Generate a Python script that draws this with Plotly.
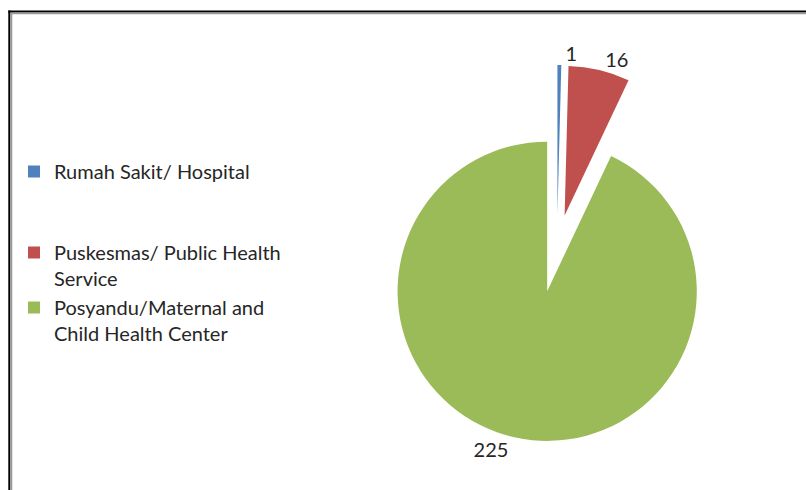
import plotly.graph_objects as go

labels = ["Rumah Sakit/ Hospital<br> <br> ",
          "Puskesmas/ Public Health<br>Service",
          "Posyandu/Maternal and<br>Child Health Center"]
values = [1, 16, 225]
colors = ["#4F81BD", "#C0504D", "#9BBB59"]
pulls = [0.22, 0.22, 0.30]

W, H = 806, 490
cx, cy, half = 557.0, 247.5, 194.5
dom = dict(x=[(cx - half) / W, (cx + half) / W],
           y=[1 - (cy + half) / H, 1 - (cy - half) / H])
lbl_font = dict(family="Lato", size=20, color="#262626")

# main pie: slices + labels of the two larger slices
fig = go.Figure(go.Pie(
    labels=labels,
    values=values,
    sort=False,
    direction="clockwise",
    rotation=0,
    pull=pulls,
    marker=dict(colors=colors, line=dict(width=0)),
    texttemplate="%{value}",
    textposition=["none", "outside", "outside"],
    outsidetextfont=lbl_font,
    domain=dom,
    hoverinfo="label+value",
))
# same pie, transparent, carrying the label of the smallest slice
fig.add_trace(go.Pie(
    labels=labels,
    values=values,
    sort=False,
    direction="clockwise",
    rotation=0,
    pull=pulls,
    marker=dict(colors=["rgba(0,0,0,0)"] * 3, line=dict(width=0)),
    texttemplate="%{value}",
    textposition=["outside", "none", "none"],
    outsidetextfont=lbl_font,
    domain=dom,
    hoverinfo="skip",
    showlegend=False,
))

fig.update_layout(
    width=W, height=H,
    margin=dict(l=0, r=0, t=0, b=0, autoexpand=False),
    paper_bgcolor="white",
    plot_bgcolor="white",
    font=dict(family="Lato", size=20, color="#262626"),
    showlegend=True,
    legend=dict(x=14 / W, xanchor="left", y=1 - 152 / H, yanchor="top",
                valign="top", font=dict(family="Lato", size=20, color="#262626"),
                bgcolor="rgba(0,0,0,0)", traceorder="normal"),
    shapes=[
        dict(type="line", xref="paper", yref="paper", x0=9.3 / W, x1=9.3 / W,
             y0=0, y1=1 - 10.5 / H, line=dict(color="#000000", width=2)),
        dict(type="line", xref="paper", yref="paper", x0=11.3 / W, x1=11.3 / W,
             y0=0, y1=1 - 12.5 / H, line=dict(color="#9a9a9a", width=2)),
        dict(type="line", xref="paper", yref="paper", x0=8.3 / W, x1=1,
             y0=1 - 11.5 / H, y1=1 - 11.5 / H, line=dict(color="#000000", width=2)),
        dict(type="line", xref="paper", yref="paper", x0=10.3 / W, x1=1,
             y0=1 - 13.5 / H, y1=1 - 13.5 / H, line=dict(color="#9a9a9a", width=1.5)),
    ],
)

fig.write_html("out.html")
